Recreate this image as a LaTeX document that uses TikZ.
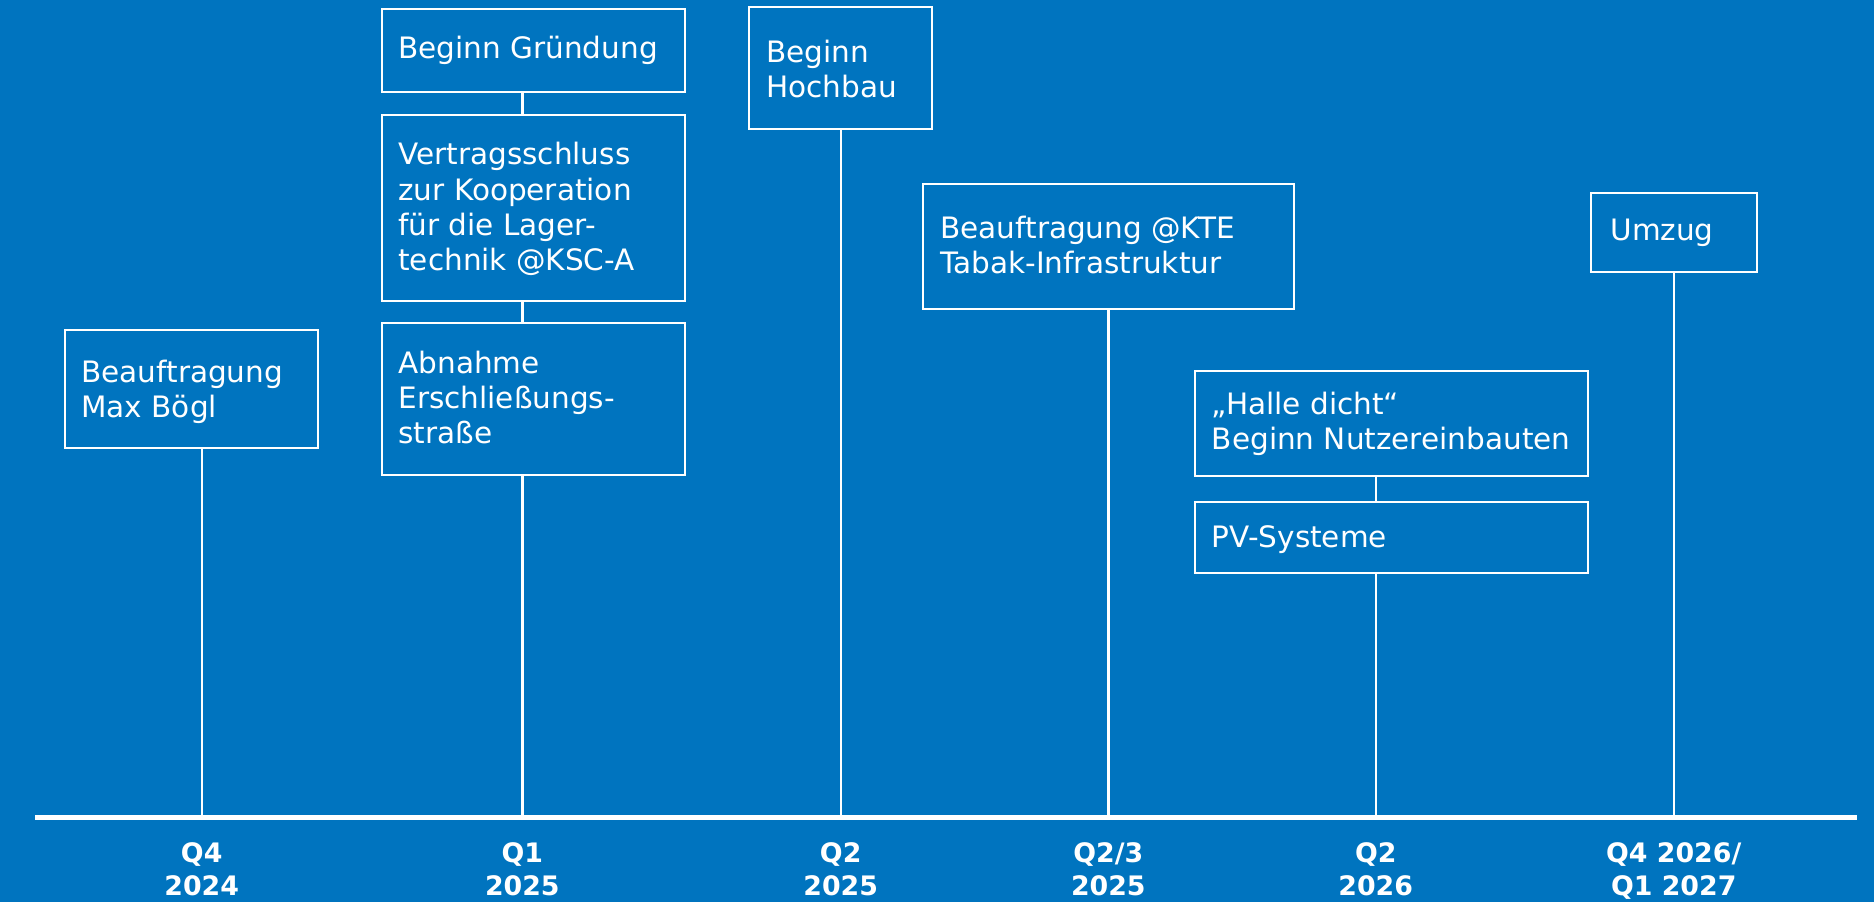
\documentclass[tikz,border=0pt]{standalone}
\usepackage{fontspec}
\setmainfont{DejaVu Sans}
\newfontfamily\boxfont{DejaVu Sans}
\newfontfamily\labfont{DejaVu Sans}
\definecolor{bgblue}{RGB}{0,116,191}
\begin{document}
\begin{tikzpicture}[x=0.5pt,y=-0.5pt,
  box/.style={draw=white,line width=1pt,inner sep=0pt,outer sep=0pt,rectangle},
  txt/.style={text=white,inner sep=0pt,anchor=north west,align=left,
    font={\boxfont\fontsize{14.75pt}{17.6pt}\selectfont}},
  lab/.style={text=white,inner sep=0pt,anchor=north,align=center,
    font={\labfont\bfseries\fontsize{13.4pt}{16.25pt}\selectfont}},
  conn/.style={draw=white,line width=1.2pt},
  axisline/.style={draw=white,line width=2.5pt}]
\fill[bgblue] (0,0) rectangle (1874,902);
\useasboundingbox (0,0) rectangle (1874,902);

% axis
\coordinate (axL) at (35,817.5);
\coordinate (axR) at (1857,817.5);
\coordinate (t1) at (201.7,817.5);
\coordinate (t2) at (522.3,817.5);
\coordinate (t3) at (840.7,817.5);
\coordinate (t4) at (1108.3,817.5);
\coordinate (t5) at (1375.7,817.5);
\coordinate (t6) at (1673.7,817.5);

% boxes
\node[box,minimum width=126.5pt,minimum height=59pt] (b1) at (191.5,389) {};
\node[box,minimum width=151.5pt,minimum height=41.5pt] (b2) at (533.5,50.5) {};
\node[box,minimum width=151.5pt,minimum height=93pt] (b3) at (533.5,208) {};
\node[box,minimum width=151.5pt,minimum height=76pt] (b4) at (533.5,399) {};
\node[box,minimum width=91.5pt,minimum height=61pt] (b5) at (840.5,68) {};
\node[box,minimum width=185.5pt,minimum height=62.5pt] (b6) at (1108.5,246.5) {};
\node[box,minimum width=196.5pt,minimum height=52.5pt] (b7) at (1391.5,423.5) {};
\node[box,minimum width=196.5pt,minimum height=35.5pt] (b8) at (1391.5,537.5) {};
\node[box,minimum width=83pt,minimum height=39.5pt] (b9) at (1674,232.5) {};

% texts
\node[txt] (x1) at (81,359.5) {Beauftragung\\Max Bögl};
\node[txt] (x2) at (398,35.5) {Beginn Gründung};
\node[txt] (x3) at (398,142) {Vertragsschluss\\zur Kooperation\\für die Lager-\\technik @KSC-A};
\node[txt] (x4) at (398,350.5) {Abnahme\\Erschließungs-\\straße};
\node[txt] (x5) at (766,39.5) {Beginn\\Hochbau};
\node[txt] (x6) at (940,215.5) {Beauftragung @KTE\\Tabak-Infrastruktur};
\node[txt] (x7) at (1211.5,391.5) {„Halle dicht“\\Beginn Nutzereinbauten};
\node[txt] (x8) at (1211.5,525.5) {PV-Systeme};
\node[txt] (x9) at (1610,219) {Umzug};

% connectors
\draw[conn] (t1) -- (t1 |- b1.south);
\draw[conn] (b2.south -| t2) -- (b3.north -| t2);
\draw[conn] (b3.south -| t2) -- (b4.north -| t2);
\draw[conn] (t2) -- (t2 |- b4.south);
\draw[conn] (t3) -- (t3 |- b5.south);
\draw[conn] (t4) -- (t4 |- b6.south);
\draw[conn] (b7.south -| t5) -- (b8.north -| t5);
\draw[conn] (t5) -- (t5 |- b8.south);
\draw[conn] (t6) -- (t6 |- b9.south);

\draw[axisline] (axL) -- (axR);

% labels
\node[lab] (l1) at (201.7,842.5) {Q4\\2024};
\node[lab] (l2) at (522.3,842.5) {Q1\\2025};
\node[lab] (l3) at (840.7,842.5) {Q2\\2025};
\node[lab] (l4) at (1108.3,842.5) {Q2/3\\2025};
\node[lab] (l5) at (1375.7,842.5) {Q2\\2026};
\node[lab] (l6) at (1673.7,842.5) {Q4 2026/\\Q1 2027};
\end{tikzpicture}
\end{document}
